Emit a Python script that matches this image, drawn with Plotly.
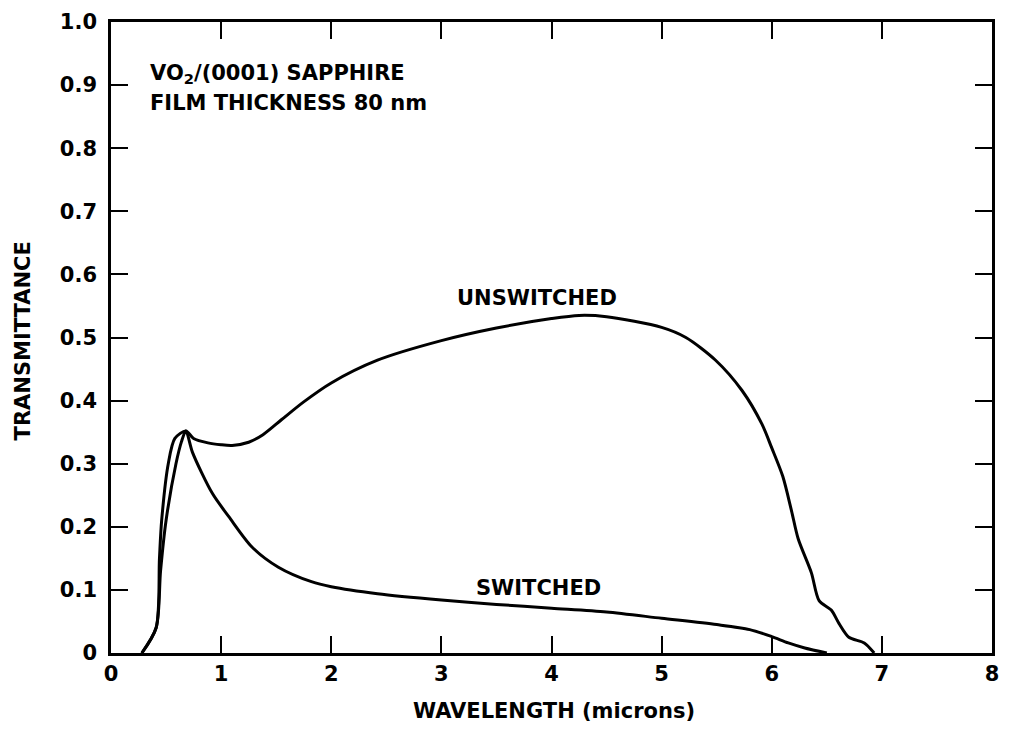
import plotly.graph_objects as go

# Data
unsw_x = [0.28, 0.41, 0.44, 0.46, 0.52, 0.58, 0.68, 0.75, 0.88, 1.0, 1.1, 1.25, 1.38, 1.55, 1.75,
          2.0, 2.42, 3.0, 3.5, 4.0, 4.25, 4.5, 5.0, 5.22, 5.49, 5.73, 5.91, 6.0, 6.1, 6.18,
          6.24, 6.36, 6.43, 6.54, 6.61, 6.70, 6.84, 6.93]
unsw_y = [0.0, 0.04, 0.15, 0.21, 0.30, 0.34, 0.352, 0.340, 0.333, 0.330, 0.329, 0.334, 0.346,
          0.370, 0.398, 0.428, 0.464, 0.495, 0.515, 0.530, 0.535, 0.533, 0.516, 0.500, 0.464,
          0.416, 0.363, 0.325, 0.280, 0.225, 0.181, 0.127, 0.083, 0.068, 0.047, 0.025, 0.016, 0.0]

sw_x = [0.28, 0.41, 0.45, 0.50, 0.59, 0.64, 0.68, 0.74, 0.92, 1.07, 1.28, 1.52, 1.82, 2.0, 2.42,
        3.0, 3.5, 4.0, 4.5, 5.0, 5.5, 5.8, 6.0, 6.15, 6.3, 6.5]
sw_y = [0.0, 0.04, 0.13, 0.21, 0.30, 0.335, 0.352, 0.318, 0.253, 0.216, 0.168, 0.136, 0.113,
        0.105, 0.094, 0.084, 0.077, 0.071, 0.065, 0.055, 0.045, 0.037, 0.026, 0.016, 0.008, 0.0]

x_ticks = [0, 1, 2, 3, 4, 5, 6, 7, 8]
x_labels = ["0", "1", "2", "3", "4", "5", "6", "7", "8"]
y_ticks = [0, 0.1, 0.2, 0.3, 0.4, 0.5, 0.6, 0.7, 0.8, 0.9, 1.0]
y_labels = ["0", "0.1", "0.2", "0.3", "0.4", "0.5", "0.6", "0.7", "0.8", "0.9", "1.0"]

FONT = "DejaVu Sans"
bold = dict(family=FONT, size=21, color="black", weight="bold")

fig = go.Figure()
fig.add_trace(go.Scatter(x=unsw_x, y=unsw_y, mode="lines", name="UNSWITCHED",
                         line=dict(color="black", width=3, shape="spline", smoothing=0.8)))
fig.add_trace(go.Scatter(x=sw_x, y=sw_y, mode="lines", name="SWITCHED",
                         line=dict(color="black", width=3, shape="spline", smoothing=0.8)))

axis_common = dict(showgrid=False, zeroline=False, showline=True, linecolor="black",
                   linewidth=2.5, mirror="ticks", ticks="inside", ticklen=17, tickwidth=2,
                   tickcolor="black", tickfont=bold)

fig.update_xaxes(range=[0, 8], tickvals=x_ticks, ticktext=x_labels,
                 ticklabelstandoff=0, **axis_common)
fig.update_yaxes(range=[0, 1.0], tickvals=y_ticks, ticktext=y_labels,
                 ticklabelstandoff=7, **axis_common)

annots = [
    dict(text="VO<sub>2</sub>/(0001) SAPPHIRE", x=0.0417, y=0.918, xref="paper", yref="paper",
         xanchor="left", yanchor="middle", showarrow=False, font=bold),
    dict(text="FILM THICKNESS 80 nm", x=0.0417, y=0.872, xref="paper", yref="paper",
         xanchor="left", yanchor="middle", showarrow=False, font=bold),
    dict(text="UNSWITCHED", x=3.87, y=0.562, xref="x", yref="y",
         xanchor="center", yanchor="middle", showarrow=False, font=bold),
    dict(text="SWITCHED", x=3.88, y=0.103, xref="x", yref="y",
         xanchor="center", yanchor="middle", showarrow=False, font=bold),
    dict(text="WAVELENGTH (microns)", x=0.503, y=-0.0918, xref="paper", yref="paper",
         xanchor="center", yanchor="middle", showarrow=False, font=bold),
    dict(text="TRANSMITTANCE", x=-0.1002, y=0.495, xref="paper", yref="paper",
         xanchor="center", yanchor="middle", textangle=-90, showarrow=False, font=bold),
]

fig.update_layout(width=1009, height=730, margin=dict(l=111, r=10, t=21, b=77),
                  paper_bgcolor="white", plot_bgcolor="white", showlegend=False,
                  annotations=annots)

fig.write_html("out.html")
